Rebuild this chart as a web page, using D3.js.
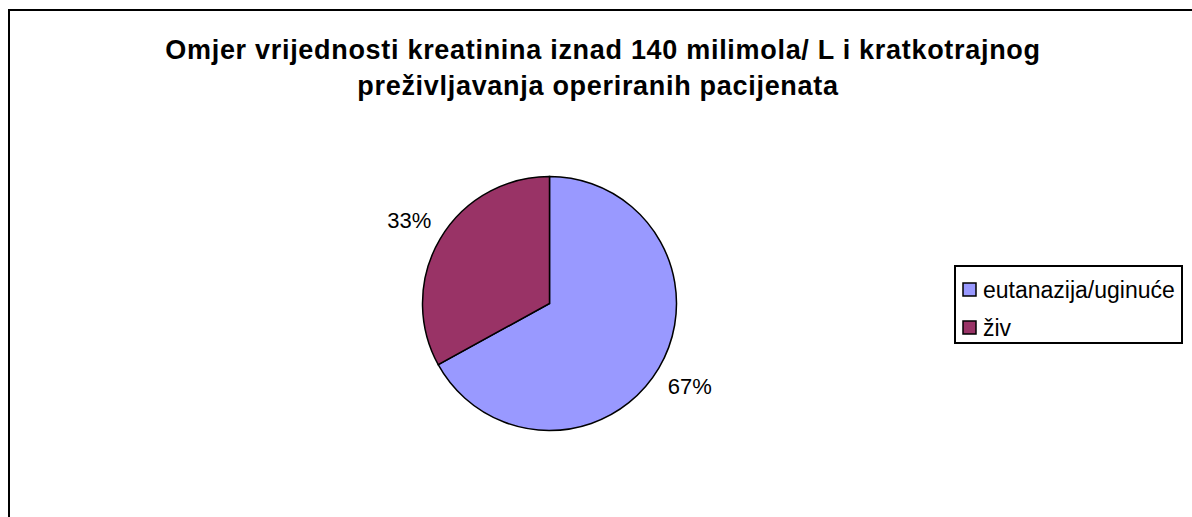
<!DOCTYPE html>
<html>
<head>
<meta charset="utf-8">
<script src="https://cdn.jsdelivr.net/npm/d3@7"></script>
<style>
  body { margin: 0; background: #fff; }
  text { font-family: "Liberation Sans", Arial, sans-serif; }
</style>
</head>
<body>
<div id="chart"></div>
<script>
// data
var titleLines = ["Omjer vrijednosti kreatinina iznad 140 milimola/ L i kratkotrajnog",
                  "preživljavanja operiranih pacijenata"];
var categories = ["eutanazija/uginuće", "živ"];
var values = [67, 33];
var colors = ["#9999FF", "#993366"];

var W = 1192, H = 517;
var cx = 549.5, cy = 303.5, r = 127;

var svg = d3.select("#chart").append("svg").attr("width", W).attr("height", H);

// chart frame (runs off right/bottom like the original)
svg.append("rect")
    .attr("x", 9).attr("y", 10)
    .attr("width", 1200).attr("height", 520)
    .attr("fill", "#fff").attr("stroke", "#000").attr("stroke-width", 2);

svg.selectAll(".title")
    .data(titleLines)
    .enter()
    .append("text")
    .attr("class", "title")
    .attr("x", function (d, i) { return i == 0 ? 603 : 598 })
    .attr("y", function (d, i) { return 59 + i * 36 })
    .attr("text-anchor", "middle")
    .style("font-size", "27px")
    .style("font-weight", "bold")
    .style("letter-spacing", "0.7px")
    .text(function (d) { return d });

var pie = d3.pie().sort(null).value(function (d) { return d });
var arcs = pie(values);
var arc = d3.arc().innerRadius(0).outerRadius(r);
var labelArc = d3.arc().innerRadius(163).outerRadius(163);

var g = svg.append("g").attr("transform", "translate(" + cx + "," + cy + ")");

g.selectAll("path")
    .data(arcs)
    .enter()
    .append("path")
    .attr("d", arc)
    .attr("fill", function (d, i) { return colors[i] })
    .attr("stroke", "#000")
    .attr("stroke-width", 1.5);

g.selectAll(".lbl")
    .data(arcs)
    .enter()
    .append("text")
    .attr("class", "lbl")
    .attr("transform", function (d) { return "translate(" + labelArc.centroid(d) + ")" })
    .attr("text-anchor", "middle")
    .attr("dy", "0.35em")
    .style("font-size", "22px")
    .text(function (d) { return d.data + "%" });

// legend
var lg = svg.append("g").attr("transform", "translate(955,266)");
lg.append("rect")
    .attr("width", 227).attr("height", 77)
    .attr("fill", "#fff").attr("stroke", "#000").attr("stroke-width", 2);

var items = lg.selectAll(".item")
    .data(categories)
    .enter()
    .append("g")
    .attr("transform", function (d, i) { return "translate(8," + (23.5 + i * 38) + ")" });

items.append("rect")
    .attr("x", 0).attr("y", -6.5)
    .attr("width", 13).attr("height", 13)
    .attr("fill", function (d, i) { return colors[i] })
    .attr("stroke", "#000").attr("stroke-width", 1.5);

items.append("text")
    .attr("x", 20)
    .attr("dy", "0.35em")
    .style("font-size", "23px")
    .text(function (d) { return d });
</script>
</body>
</html>
